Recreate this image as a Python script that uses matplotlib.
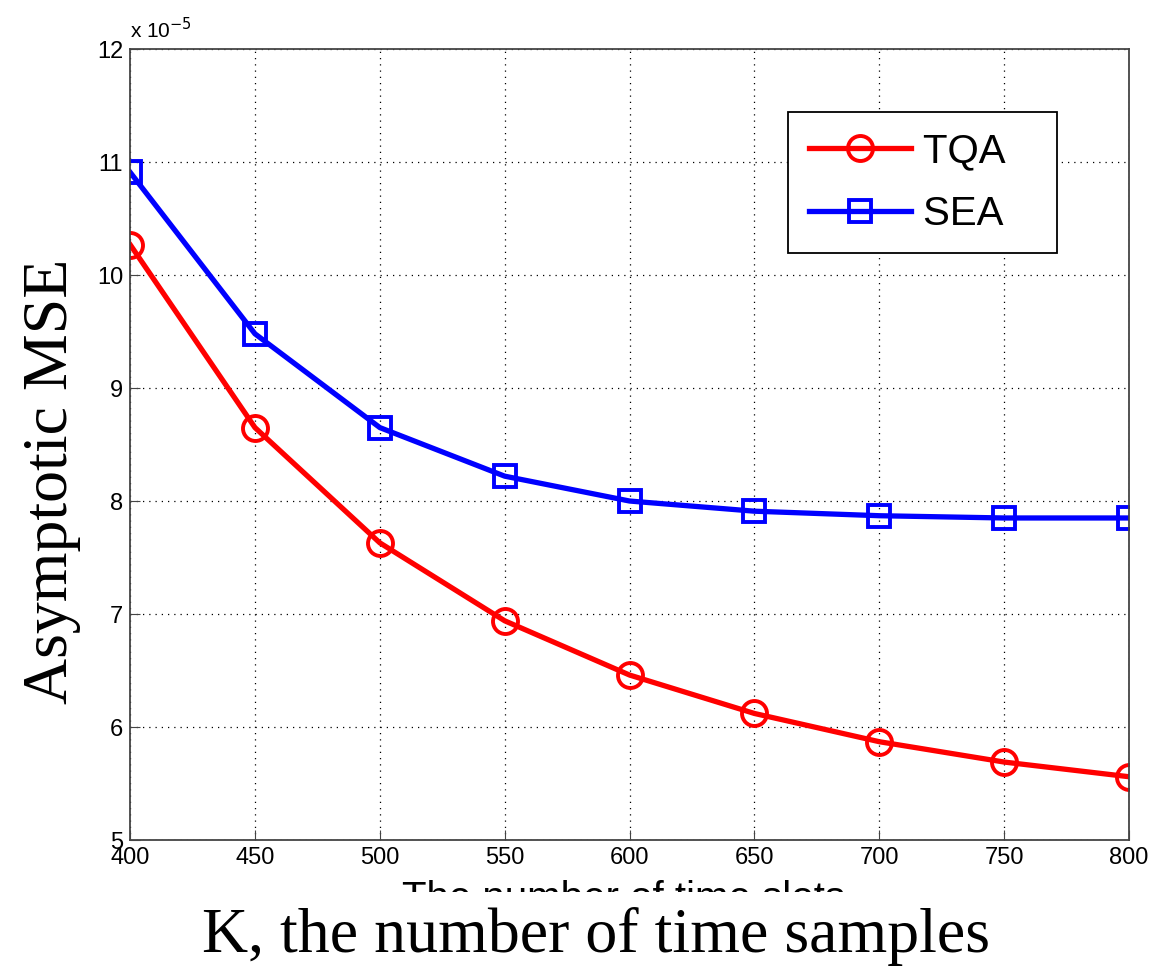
import numpy as np
import matplotlib.pyplot as plt
from matplotlib.patches import Rectangle

K = [400, 450, 500, 550, 600, 650, 700, 750, 800]
tqa = [10.27, 8.65, 7.63, 6.94, 6.46, 6.12, 5.87, 5.69, 5.56]
sea = [10.91, 9.48, 8.65, 8.22, 8.00, 7.91, 7.87, 7.85, 7.85]

plt.rcParams['font.family'] = ['Liberation Sans', 'DejaVu Sans']

fig = plt.figure(figsize=(11.51, 9.67), dpi=100)
ax = fig.add_axes([0.113, 0.1313, 0.868, 0.818])

ax.plot(K, tqa, color='red', lw=3.8, marker='o', ms=18, mfc='none',
        mew=2.8, label='TQA   ')
ax.plot(K, sea, color='blue', lw=3.8, marker='s', ms=16, mfc='none',
        mew=2.8, label='SEA   ')

ax.set_xlim(400, 800)
ax.set_ylim(5, 12)
ax.set_xticks(np.arange(400, 801, 50))
ax.set_yticks(np.arange(5, 13, 1))
ax.grid(True, color='black', linestyle=(0, (1, 4)), lw=0.9)
ax.tick_params(direction='in', labelsize=17, length=7, color='#444444', pad=5)
for s in ax.spines.values():
    s.set_color('#444444')
    s.set_linewidth(1.3)

ax.text(0.0, 1.008, r'x 10$^{-5}$', transform=ax.transAxes, fontsize=15,
        ha='left', va='bottom')

leg = ax.legend(loc='upper right', bbox_to_anchor=(0.928, 0.92), fontsize=29,
                handlelength=2.55, borderpad=0.5, labelspacing=0.6,
                handletextpad=0.3, borderaxespad=0,
                fancybox=False, edgecolor='black', framealpha=1)
leg.get_frame().set_linewidth(1.3)

# small original label, mostly hidden by the big one
fig.text(0.542, 0.070, 'The number of time slots', fontsize=29, ha='center',
         va='center', zorder=3)
fig.patches.append(Rectangle((0, 0), 1, 0.0775, transform=fig.transFigure,
                             facecolor='white', edgecolor='none', zorder=3.5))
fig.text(0.518, 0.032, 'K, the number of time samples', fontsize=46,
         ha='center', va='center', family='Liberation Serif', zorder=4)
fig.text(0.045, 0.502, 'Asymptotic MSE', fontsize=46, rotation=90,
         ha='center', va='center', family='Liberation Serif')

fig.savefig('out.png', dpi=100)
